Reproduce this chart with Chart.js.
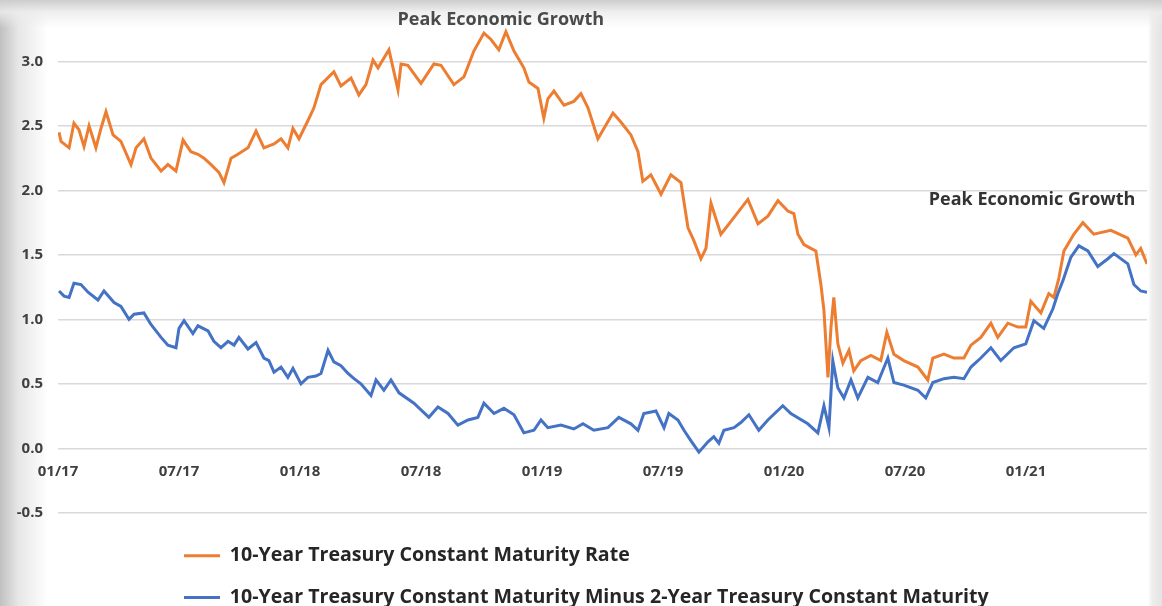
<!DOCTYPE html>
<html>
<head>
<meta charset="utf-8">
<script src="https://cdn.jsdelivr.net/npm/chart.js@4/dist/chart.umd.min.js"></script>
<style>
  html, body { margin: 0; padding: 0; width: 1162px; height: 606px; overflow: hidden; }
  body {
    background:
      linear-gradient(to bottom, rgba(205,205,205,1) 0px, rgba(236,236,236,0.85) 12px, rgba(255,255,255,0) 28px),
      linear-gradient(to right, rgba(192,192,192,1) 0px, rgba(226,226,226,0.85) 18px, rgba(255,255,255,0) 48px),
      linear-gradient(to left, rgba(228,228,228,1) 0px, rgba(238,238,238,1) 10px, rgba(255,255,255,0) 14px),
      #ffffff;
  }
  #wrap { position: relative; width: 1162px; height: 606px; }
</style>
</head>
<body>
<div id="wrap"><canvas id="chart" width="1162" height="606"></canvas></div>
<script>
// ---- Data (x = months since January 2017) ----
const seriesNames = [
  '10-Year Treasury Constant Maturity Rate',
  '10-Year Treasury Constant Maturity Minus 2-Year Treasury Constant Maturity'
];

const rateMonths = [0.05,0.15,0.55,0.79,1.04,1.29,1.54,1.88,2.13,2.38,
  2.73,3.12,3.62,3.87,4.26,4.61,5.11,5.45,5.85,6.20,
  6.59,6.94,7.24,7.59,7.98,8.23,8.58,8.92,9.42,9.82,
  10.21,10.71,11.06,11.40,11.65,11.95,12.39,12.69,13.04,13.68,
  14.03,14.53,14.92,15.27,15.62,15.87,16.41,16.86,17.01,17.35,
  18.00,18.64,18.99,19.63,20.13,20.62,21.12,21.47,21.86,22.21,
  22.61,23.10,23.35,23.80,24.09,24.29,24.59,25.09,25.58,25.93,
  26.28,26.77,27.07,27.52,27.91,28.41,28.76,29.00,29.40,29.90,
  30.39,30.89,31.24,31.53,31.88,32.13,32.38,32.87,33.37,34.21,
  34.71,35.20,35.70,36.19,36.49,36.69,36.99,37.33,37.58,37.83,
  37.98,38.18,38.33,38.47,38.67,38.92,39.22,39.46,39.81,40.31,
  40.80,41.10,41.45,41.94,42.64,43.13,43.38,43.93,44.42,44.92,
  45.27,45.76,46.26,46.60,47.10,47.60,47.99,48.24,48.74,49.13,
  49.38,49.63,49.88,50.37,50.82,51.36,52.21,53.05,53.45,53.69,
  54.00];
const rateValues = [2.45,2.38,2.33,2.52,2.47,2.34,2.50,2.33,2.48,2.61,
  2.43,2.38,2.20,2.33,2.40,2.25,2.15,2.20,2.15,2.39,
  2.30,2.28,2.25,2.20,2.14,2.06,2.25,2.28,2.33,2.46,
  2.33,2.36,2.40,2.33,2.48,2.40,2.54,2.64,2.82,2.92,
  2.81,2.87,2.74,2.82,3.01,2.95,3.09,2.78,2.98,2.97,
  2.83,2.98,2.97,2.82,2.88,3.08,3.22,3.17,3.09,3.23,
  3.08,2.95,2.84,2.79,2.56,2.71,2.77,2.66,2.69,2.75,
  2.64,2.40,2.48,2.60,2.53,2.43,2.30,2.07,2.12,1.97,
  2.12,2.06,1.71,1.61,1.47,1.55,1.90,1.66,1.76,1.93,
  1.74,1.80,1.92,1.84,1.82,1.66,1.58,1.55,1.53,1.27,
  1.07,0.55,0.94,1.17,0.81,0.66,0.76,0.60,0.68,0.72,
  0.68,0.90,0.73,0.68,0.63,0.53,0.70,0.73,0.70,0.70,
  0.80,0.86,0.97,0.86,0.97,0.94,0.94,1.14,1.05,1.20,
  1.17,1.32,1.53,1.66,1.75,1.66,1.69,1.63,1.50,1.55,
  1.43];

const spreadMonths = [0.05,0.30,0.55,0.79,1.14,1.49,1.98,2.28,2.78,3.12,
  3.52,3.77,4.26,4.61,5.11,5.45,5.85,6.00,6.25,6.69,
  6.94,7.44,7.73,8.08,8.43,8.73,8.97,9.42,9.82,10.21,
  10.46,10.71,11.06,11.40,11.65,12.05,12.39,12.79,13.04,13.39,
  13.68,14.03,14.38,14.68,15.02,15.52,15.77,16.16,16.51,16.91,
  17.65,18.39,18.84,19.34,19.83,20.33,20.82,21.12,21.62,22.11,
  22.61,23.10,23.60,23.95,24.29,24.94,25.58,26.03,26.57,27.27,
  27.81,28.41,28.76,29.05,29.65,30.05,30.29,30.74,31.04,31.38,
  31.78,32.23,32.52,32.77,33.02,33.52,33.86,34.26,34.75,35.20,
  35.94,36.34,37.18,37.68,37.98,38.23,38.42,38.67,38.97,39.32,
  39.66,40.16,40.65,41.15,41.45,41.94,42.64,43.03,43.38,43.93,
  44.42,44.92,45.27,45.76,46.26,46.75,47.40,47.99,48.39,48.88,
  49.33,49.58,49.83,50.22,50.62,51.07,51.56,52.06,52.36,53.05,
  53.35,53.69,54.00];
const spreadValues = [1.22,1.18,1.17,1.28,1.27,1.21,1.15,1.22,1.13,1.10,
  1.00,1.04,1.05,0.96,0.86,0.80,0.78,0.93,0.99,0.89,
  0.95,0.91,0.83,0.78,0.83,0.80,0.86,0.77,0.82,0.70,
  0.68,0.59,0.63,0.55,0.62,0.50,0.55,0.56,0.58,0.76,
  0.67,0.64,0.58,0.54,0.50,0.41,0.53,0.45,0.53,0.43,
  0.35,0.24,0.32,0.27,0.18,0.22,0.24,0.35,0.27,0.31,
  0.26,0.12,0.14,0.22,0.16,0.18,0.15,0.19,0.14,0.16,
  0.24,0.19,0.14,0.27,0.29,0.16,0.27,0.22,0.14,0.06,
  -0.03,0.05,0.09,0.04,0.14,0.16,0.20,0.26,0.14,0.22,
  0.33,0.27,0.19,0.12,0.33,0.16,0.68,0.47,0.39,0.53,
  0.39,0.55,0.51,0.70,0.51,0.49,0.45,0.39,0.51,0.54,
  0.55,0.54,0.63,0.70,0.78,0.68,0.78,0.81,0.99,0.93,
  1.08,1.20,1.30,1.48,1.57,1.53,1.41,1.47,1.51,1.43,
  1.27,1.22,1.21];

const xTickMonths = [0, 6, 12, 18, 24, 30, 36, 42, 48];
const xTickLabels = ['01/17','07/17','01/18','07/18','01/19','07/19','01/20','07/20','01/21'];
const yTickValues = [-0.5, 0, 0.5, 1.0, 1.5, 2.0, 2.5, 3.0];

const noteTexts = ['Peak Economic Growth', 'Peak Economic Growth'];
const noteMonths = [21.96, 48.3];
const noteValues = [3.32, 1.93];

// ---- Styling ----
const ORANGE = '#ED7D31';
const BLUE = '#4472C4';
const TICK_FONT = { family: '"Open Sans", sans-serif', weight: 'bold', size: 15 };

const toPoints = (xs, ys) => xs.map((x, i) => ({ x: x, y: ys[i] }));

const legendPlacer = {
  id: 'legendPlacer',
  beforeDraw(chart) {
    const lg = chart.legend;
    if (!lg) return;
    const pad = lg.options.labels.padding;
    lg.left = 184 - pad;
    lg.right = lg.left + lg.width;
    lg.top = 556 - pad - 10;
    lg.bottom = lg.top + lg.height;
  }
};

const notesPlugin = {
  id: 'notes',
  afterDatasetsDraw(chart) {
    const { ctx } = chart;
    const xs = chart.scales.x, ys = chart.scales.y;
    ctx.save();
    ctx.font = 'bold 18px "Open Sans", sans-serif';
    ctx.textAlign = 'center';
    ctx.textBaseline = 'middle';
    noteTexts.forEach((t, i) => {
      ctx.fillStyle = i === 0 ? '#4a4a4a' : '#333333';
      ctx.fillText(t, xs.getPixelForValue(noteMonths[i]), ys.getPixelForValue(noteValues[i]));
    });
    ctx.restore();
  }
};

new Chart(document.getElementById('chart'), {
  type: 'line',
  data: {
    datasets: [
      {
        label: seriesNames[0],
        data: toPoints(rateMonths, rateValues),
        borderColor: ORANGE,
        backgroundColor: ORANGE,
        borderWidth: 3,
        pointRadius: 0,
        tension: 0,
        order: 2
      },
      {
        label: seriesNames[1],
        data: toPoints(spreadMonths, spreadValues),
        borderColor: BLUE,
        backgroundColor: BLUE,
        borderWidth: 3,
        pointRadius: 0,
        tension: 0,
        order: 1
      }
    ]
  },
  options: {
    responsive: false,
    animation: false,
    layout: { padding: { top: 8, right: 15, left: 0, bottom: 0 } },
    scales: {
      x: {
        type: 'linear',
        min: 0,
        max: 54,
        position: { y: 0 },
        grid: { display: false },
        border: { display: false },
        afterBuildTicks: (s) => { s.ticks = xTickMonths.map(v => ({ value: v })); },
        ticks: {
          autoSkip: false,
          maxRotation: 0,
          padding: 6,
          color: '#404040',
          font: TICK_FONT,
          callback: (v) => xTickLabels[xTickMonths.indexOf(v)]
        }
      },
      y: {
        min: -0.5,
        max: 3.29,
        grid: { color: '#d9d9d9', lineWidth: 1.5, drawTicks: false },
        border: { display: false },
        afterBuildTicks: (s) => { s.ticks = yTickValues.map(v => ({ value: v })); },
        afterFit: (s) => { s.width = 58; },
        ticks: {
          padding: 15,
          color: '#404040',
          font: TICK_FONT,
          callback: (v) => Number(v).toFixed(1)
        }
      }
    },
    plugins: {
      tooltip: { enabled: false },
      legend: {
        position: 'bottom',
        align: 'start',
        labels: {
          boxWidth: 36,
          boxHeight: 3,
          padding: 22,
          color: '#262626',
          font: { family: '"Open Sans", sans-serif', weight: 'bold', size: 19.6 },
          sort: (a, b) => a.datasetIndex - b.datasetIndex,
          generateLabels: (chart) => {
            const items = Chart.defaults.plugins.legend.labels.generateLabels(chart);
            items.forEach(it => { it.lineWidth = 0; it.fillStyle = it.strokeStyle; });
            return items;
          }
        }
      }
    }
  },
  plugins: [legendPlacer, notesPlugin]
});
</script>
</body>
</html>
